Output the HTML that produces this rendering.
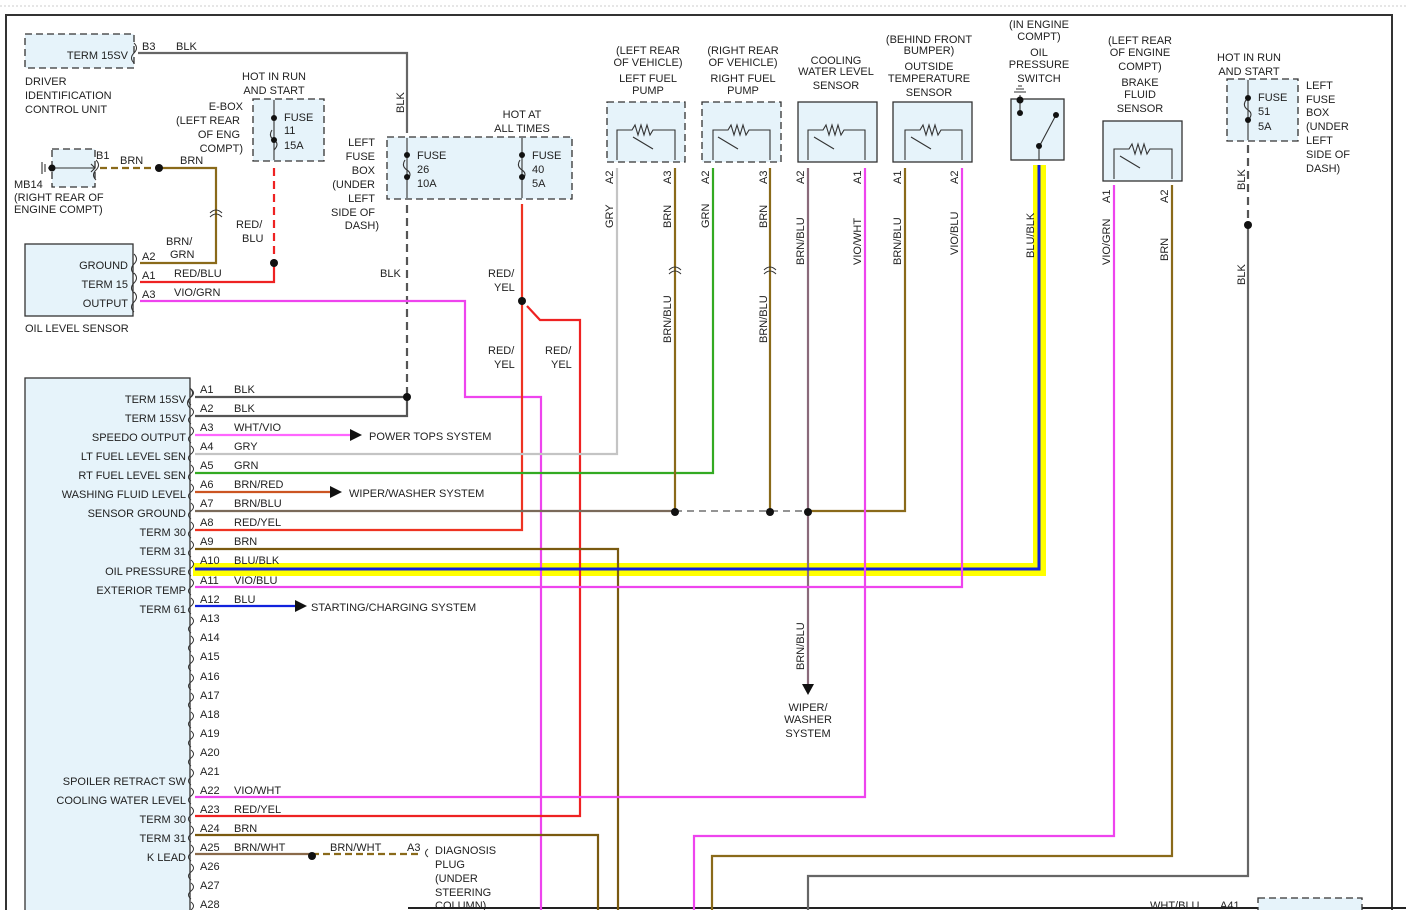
<!DOCTYPE html>
<html><head><meta charset="utf-8"><style>
html,body{margin:0;padding:0;background:#fff;}
svg{display:block;font-family:"Liberation Sans",sans-serif;font-size:11px;fill:#222;}
text{fill:#222;}
.r{text-anchor:end}.m{text-anchor:middle}
</style></head><body>
<svg width="1406" height="910" viewBox="0 0 1406 910" xmlns="http://www.w3.org/2000/svg">
<line x1="0" y1="6" x2="1406" y2="6" stroke="#ccc" stroke-dasharray="2,2"/>
<path d="M6 910 V15 H1392 V910" fill="none" stroke="#333" stroke-width="2"/>
<line x1="408" y1="908" x2="1406" y2="908" stroke="#222" stroke-width="2"/>

<!-- yellow highlight -->
<rect x="84" y="545" width="106" height="34" fill="#ffff00"/>
<rect x="193" y="563" width="853" height="13" fill="#ffff00"/>
<rect x="1033" y="165" width="13" height="411" fill="#ffff00"/>

<!-- boxes -->
<g fill="#e6f3fa" stroke="#333" stroke-width="1.3">
<rect x="25" y="34" width="109" height="34" stroke-dasharray="7,4"/>
<rect x="52" y="149" width="43" height="38" stroke-dasharray="7,4"/>
<rect x="25" y="244" width="108" height="72"/>
<rect x="253" y="99" width="71" height="62" stroke-dasharray="7,4"/>
<rect x="387" y="137" width="185" height="62" stroke-dasharray="7,4"/>
<rect x="25" y="378" width="165" height="540"/>
<rect x="607" y="102" width="78" height="60" stroke-dasharray="7,4"/>
<rect x="702" y="102" width="79" height="60" stroke-dasharray="7,4"/>
<rect x="798" y="102" width="79" height="60"/>
<rect x="893" y="102" width="79" height="60"/>
<rect x="1011" y="99" width="53" height="61"/>
<rect x="1103" y="121" width="79" height="60"/>
<rect x="1227" y="79" width="71" height="62" stroke-dasharray="7,4"/>
<rect x="1258" y="898" width="104" height="14" stroke-dasharray="7,4"/>
</g>

<!-- sensor internals -->
<g fill="none" stroke="#333" stroke-width="1.1">
<path d="M617 160 V130 H632 l3-5 l3 10 l3-10 l3 10 l3-10 l3 10 l3-5 H675 V160"/>
<path d="M713 160 V130 H728 l3-5 l3 10 l3-10 l3 10 l3-10 l3 10 l3-5 H770 V160"/>
<path d="M808 160 V130 H823 l3-5 l3 10 l3-10 l3 10 l3-10 l3 10 l3-5 H865 V160"/>
<path d="M905 160 V130 H920 l3-5 l3 10 l3-10 l3 10 l3-10 l3 10 l3-5 H962 V160"/>
<path d="M1114 179 V149 H1129 l3-5 l3 10 l3-10 l3 10 l3-10 l3 10 l3-5 H1172 V179"/>
<path d="M633 137 l20 12 M718 137 l20 12 M814 137 l20 12 M911 137 l20 12 M1120 156 l20 12"/>
<path d="M1020 95 V113 M1039 147 V160 M1039 147 L1056 115"/>
<path d="M1014 92 h12 M1016 89 h8 M1018 86 h4"/>
<path d="M274 100 V160 M407 138 V198 M522 138 V198 M1248 80 V140"/>
<path d="M272 130 q-4 6 2 10 q6 4 0 10 M405 160 q-4 6 2 10 q6 4 0 10 M520 160 q-4 6 2 10 q6 4 0 10 M1246 100 q-4 6 2 10 q6 4 0 10"/>
<path d="M48 168 H95 M91 164 l4 4 -4 4 M42 162 v12 M45 164 v8"/>
</g>
<g fill="#111">
<circle cx="1020" cy="100" r="3.5"/><circle cx="1039" cy="146" r="3"/><circle cx="1056" cy="115" r="3"/><circle cx="1020" cy="113" r="3"/>
<circle cx="274" cy="118" r="3"/><circle cx="274" cy="140" r="3"/>
<circle cx="407" cy="155" r="3"/><circle cx="407" cy="177" r="3"/>
<circle cx="522" cy="155" r="3"/><circle cx="522" cy="177" r="3"/>
<circle cx="1248" cy="98" r="3"/><circle cx="1248" cy="120" r="3"/>
<circle cx="52" cy="168" r="3.5"/>
</g>

<!-- wires -->
<g fill="none" stroke-width="2.2">
<path d="M138 53 H407 V133" stroke="#666"/>
<path d="M407 205 V397" stroke="#555" stroke-dasharray="8,5"/>
<path d="M195 397 H407 M195 416 H407 V397" stroke="#555"/>
<path d="M100 168 H159" stroke="#8a6a1a" stroke-dasharray="7,4"/>
<path d="M159 168 H216 V263 H140" stroke="#8a6a1a"/>
<path d="M274 168 V263" stroke="#ee2222" stroke-dasharray="8,5"/>
<path d="M274 263 V282 H140" stroke="#ee2222"/>
<path d="M140 301 H465 V397 H541 V910" stroke="#ee44ee"/>
<path d="M522 204 V530 H195" stroke="#ee3322"/>
<path d="M527 306 L540 320 H580 V816 H195" stroke="#ee2222"/>
<path d="M195 435 H350" stroke="#ff66ff"/>
<path d="M195 454 H617 V168" stroke="#c4c4c4"/>
<path d="M195 473 H713 V168" stroke="#33aa22"/>
<path d="M195 492 H330" stroke="#cc5522"/>
<path d="M195 511 H675" stroke="#7a6a5a"/>
<path d="M675 511 H808" stroke="#555" stroke-dasharray="7,5" stroke-width="1.3"/>
<path d="M808 511 H905 V168" stroke="#8a6a1a"/>
<path d="M675 511 V168 M770 511 V168" stroke="#8a6a1a"/>
<path d="M808 168 V685" stroke="#8a6a7a"/>
<path d="M195 549 H618 V910" stroke="#7a5a10"/>
<path d="M195 569 H1039 V165" stroke="#1122dd" stroke-width="3"/>
<path d="M195 587 H962 V168" stroke="#ee44ee"/>
<path d="M195 606 H295" stroke="#1122dd"/>
<path d="M195 797 H865 V168" stroke="#ee44ee"/>
<path d="M195 835 H598 V910" stroke="#7a5a10"/>
<path d="M195 854 H312" stroke="#8a6a4a"/>
<path d="M312 854 H420" stroke="#8a6a1a" stroke-dasharray="7,4"/>
<path d="M1114 185 V836 H694 V910" stroke="#ee44ee"/>
<path d="M1172 185 V856 H712 V910" stroke="#8a6a1a"/>
<path d="M1248 145 V225" stroke="#555" stroke-dasharray="8,5"/>
<path d="M1248 225 V876 H808 V910" stroke="#666"/>
</g>
<g fill="#111">
<circle cx="159" cy="168" r="4"/><circle cx="274" cy="263" r="4"/><circle cx="407" cy="397" r="4"/>
<circle cx="522" cy="301" r="4"/><circle cx="675" cy="512" r="4"/><circle cx="770" cy="512" r="4"/><circle cx="808" cy="512" r="4"/>
<circle cx="1248" cy="225" r="4"/><circle cx="312" cy="856" r="4"/>
<path d="M350 429 l12 6 -12 6z M330 486 l12 6 -12 6z M295 600 l12 6 -12 6z M802 684 l6 11 6-11z"/>
</g>
<!-- connector brackets -->
<g fill="none" stroke="#333" stroke-width="1">
<path d="M210 213 q6-6 12 0 M210 217 q6-6 12 0 M669 270 q6-6 12 0 M669 274 q6-6 12 0 M764 270 q6-6 12 0 M764 274 q6-6 12 0"/>
<path d="M134 43 q5 5 0 10 q-5 5 0 10 M96 160 q5 5 0 10 q-5 5 0 10 M134 254 q5 5 0 10 q-5 5 0 10 M134 273 q5 5 0 10 q-5 5 0 10 M134 292 q5 5 0 10 q-5 5 0 10"/>
<path d="M190 388 q5 5 0 10 q-5 5 0 10 v510"/>
</g>
<g fill="none" stroke="#333" stroke-width="1">
<path id="br" d="M191 389 q5 4 0 8 q-5 4 0 8"/>
</g>
<g fill="none" stroke="#333" stroke-width="1">
<path d="M191 408 q5 4 0 8 q-5 4 0 8 M191 427 q5 4 0 8 q-5 4 0 8 M191 446 q5 4 0 8 q-5 4 0 8 M191 465 q5 4 0 8 q-5 4 0 8 M191 484 q5 4 0 8 q-5 4 0 8 M191 503 q5 4 0 8 q-5 4 0 8 M191 522 q5 4 0 8 q-5 4 0 8 M191 541 q5 4 0 8 q-5 4 0 8 M191 560 q5 4 0 8 q-5 4 0 8 M191 579 q5 4 0 8 q-5 4 0 8 M191 598 q5 4 0 8 q-5 4 0 8 M191 617 q5 4 0 8 q-5 4 0 8 M191 636 q5 4 0 8 q-5 4 0 8 M191 655 q5 4 0 8 q-5 4 0 8 M191 674 q5 4 0 8 q-5 4 0 8 M191 693 q5 4 0 8 q-5 4 0 8 M191 712 q5 4 0 8 q-5 4 0 8 M191 731 q5 4 0 8 q-5 4 0 8 M191 750 q5 4 0 8 q-5 4 0 8 M191 769 q5 4 0 8 q-5 4 0 8 M191 788 q5 4 0 8 q-5 4 0 8 M191 807 q5 4 0 8 q-5 4 0 8 M191 826 q5 4 0 8 q-5 4 0 8 M191 845 q5 4 0 8 q-5 4 0 8 M191 864 q5 4 0 8 q-5 4 0 8 M191 883 q5 4 0 8 q-5 4 0 8 M191 902 q5 4 0 8"/>
</g>

<!-- text -->
<text x="128" y="59" class="r">TERM 15SV</text>
<text x="142" y="50">B3</text><text x="176" y="50">BLK</text>
<text x="25" y="85">DRIVER</text><text x="25" y="99">IDENTIFICATION</text><text x="25" y="113">CONTROL UNIT</text>
<text x="274" y="80" class="m">HOT IN RUN</text><text x="274" y="94" class="m">AND START</text>
<text x="243" y="110" class="r">E-BOX</text><text x="240" y="124" class="r">(LEFT REAR</text><text x="240" y="138" class="r">OF ENG</text><text x="243" y="152" class="r">COMPT)</text>
<text x="284" y="121">FUSE</text><text x="284" y="134">11</text><text x="284" y="149">15A</text>
<text x="96" y="159">B1</text><text x="120" y="164">BRN</text><text x="180" y="164">BRN</text>
<text x="14" y="188">MB14</text><text x="14" y="201">(RIGHT REAR OF</text><text x="14" y="213">ENGINE COMPT)</text>
<text x="236" y="228">RED/</text><text x="242" y="242">BLU</text>
<text x="166" y="245">BRN/</text><text x="170" y="258">GRN</text>
<text x="128" y="269" class="r">GROUND</text><text x="128" y="288" class="r">TERM 15</text><text x="128" y="307" class="r">OUTPUT</text>
<text x="142" y="260">A2</text><text x="142" y="279">A1</text><text x="142" y="298">A3</text>
<text x="174" y="277">RED/BLU</text><text x="174" y="296">VIO/GRN</text>
<text x="25" y="332">OIL LEVEL SENSOR</text>
<text transform="translate(404,113) rotate(-90)">BLK</text>
<text x="522" y="118" class="m">HOT AT</text><text x="522" y="132" class="m">ALL TIMES</text>
<text x="375" y="146" class="r">LEFT</text><text x="375" y="160" class="r">FUSE</text><text x="375" y="174" class="r">BOX</text><text x="375" y="188" class="r">(UNDER</text><text x="375" y="202" class="r">LEFT</text><text x="375" y="216" class="r">SIDE OF</text><text x="379" y="229" class="r">DASH)</text>
<text x="417" y="159">FUSE</text><text x="417" y="173">26</text><text x="417" y="187">10A</text>
<text x="532" y="159">FUSE</text><text x="532" y="173">40</text><text x="532" y="187">5A</text>
<text x="380" y="277">BLK</text>
<text x="488" y="277">RED/</text><text x="494" y="291">YEL</text>
<text x="488" y="354">RED/</text><text x="494" y="368">YEL</text>
<text x="545" y="354">RED/</text><text x="551" y="368">YEL</text>

<text x="648" y="54" class="m">(LEFT REAR</text><text x="648" y="66" class="m">OF VEHICLE)</text><text x="648" y="82" class="m">LEFT FUEL</text><text x="648" y="94" class="m">PUMP</text>
<text x="743" y="54" class="m">(RIGHT REAR</text><text x="743" y="66" class="m">OF VEHICLE)</text><text x="743" y="82" class="m">RIGHT FUEL</text><text x="743" y="94" class="m">PUMP</text>
<text x="836" y="64" class="m">COOLING</text><text x="836" y="75" class="m">WATER LEVEL</text><text x="836" y="89" class="m">SENSOR</text>
<text x="929" y="43" class="m">(BEHIND FRONT</text><text x="929" y="54" class="m">BUMPER)</text><text x="929" y="70" class="m">OUTSIDE</text><text x="929" y="82" class="m">TEMPERATURE</text><text x="929" y="96" class="m">SENSOR</text>
<text x="1039" y="28" class="m">(IN ENGINE</text><text x="1039" y="40" class="m">COMPT)</text><text x="1039" y="56" class="m">OIL</text><text x="1039" y="68" class="m">PRESSURE</text><text x="1039" y="82" class="m">SWITCH</text>
<text x="1140" y="44" class="m">(LEFT REAR</text><text x="1140" y="56" class="m">OF ENGINE</text><text x="1140" y="70" class="m">COMPT)</text><text x="1140" y="86" class="m">BRAKE</text><text x="1140" y="98" class="m">FLUID</text><text x="1140" y="112" class="m">SENSOR</text>
<text x="1249" y="61" class="m">HOT IN RUN</text><text x="1249" y="75" class="m">AND START</text>
<text x="1258" y="101">FUSE</text><text x="1258" y="115">51</text><text x="1258" y="130">5A</text>
<text x="1306" y="89">LEFT</text><text x="1306" y="103">FUSE</text><text x="1306" y="116">BOX</text><text x="1306" y="130">(UNDER</text><text x="1306" y="144">LEFT</text><text x="1306" y="158">SIDE OF</text><text x="1306" y="172">DASH)</text>

<g>
<text transform="translate(613,184) rotate(-90)">A2</text><text transform="translate(671,184) rotate(-90)">A3</text>
<text transform="translate(709,184) rotate(-90)">A2</text><text transform="translate(767,184) rotate(-90)">A3</text>
<text transform="translate(804,184) rotate(-90)">A2</text><text transform="translate(861,184) rotate(-90)">A1</text>
<text transform="translate(901,184) rotate(-90)">A1</text><text transform="translate(958,184) rotate(-90)">A2</text>
<text transform="translate(1110,203) rotate(-90)">A1</text><text transform="translate(1168,203) rotate(-90)">A2</text>
<text transform="translate(613,228) rotate(-90)">GRY</text><text transform="translate(671,228) rotate(-90)">BRN</text>
<text transform="translate(709,228) rotate(-90)">GRN</text><text transform="translate(767,228) rotate(-90)">BRN</text>
<text transform="translate(804,265) rotate(-90)">BRN/BLU</text><text transform="translate(861,265) rotate(-90)">VIO/WHT</text>
<text transform="translate(901,265) rotate(-90)">BRN/BLU</text><text transform="translate(958,255) rotate(-90)">VIO/BLU</text>
<text transform="translate(1034,258) rotate(-90)">BLU/BLK</text>
<text transform="translate(1110,265) rotate(-90)">VIO/GRN</text><text transform="translate(1168,261) rotate(-90)">BRN</text>
<text transform="translate(1245,190) rotate(-90)">BLK</text><text transform="translate(1245,285) rotate(-90)">BLK</text>
<text transform="translate(671,343) rotate(-90)">BRN/BLU</text><text transform="translate(767,343) rotate(-90)">BRN/BLU</text>
<text transform="translate(804,670) rotate(-90)">BRN/BLU</text>
</g>
<text x="808" y="711" class="m">WIPER/</text><text x="808" y="723" class="m">WASHER</text><text x="808" y="737" class="m">SYSTEM</text>

<g class="r">
<text x="186" y="403" class="r">TERM 15SV</text><text x="186" y="422" class="r">TERM 15SV</text><text x="186" y="441" class="r">SPEEDO OUTPUT</text>
<text x="186" y="460" class="r">LT FUEL LEVEL SEN</text><text x="186" y="479" class="r">RT FUEL LEVEL SEN</text><text x="186" y="498" class="r">WASHING FLUID LEVEL</text>
<text x="186" y="517" class="r">SENSOR GROUND</text><text x="186" y="536" class="r">TERM 30</text><text x="186" y="555" class="r">TERM 31</text>
<text x="186" y="575" class="r">OIL PRESSURE</text><text x="186" y="594" class="r">EXTERIOR TEMP</text><text x="186" y="613" class="r">TERM 61</text>
<text x="186" y="785" class="r">SPOILER RETRACT SW</text><text x="186" y="804" class="r">COOLING WATER LEVEL</text><text x="186" y="823" class="r">TERM 30</text>
<text x="186" y="842" class="r">TERM 31</text><text x="186" y="861" class="r">K LEAD</text>
</g>
<g>
<text x="200" y="393">A1</text><text x="200" y="412">A2</text><text x="200" y="431">A3</text><text x="200" y="450">A4</text><text x="200" y="469">A5</text><text x="200" y="488">A6</text><text x="200" y="507">A7</text><text x="200" y="526">A8</text><text x="200" y="545">A9</text><text x="200" y="564">A10</text><text x="200" y="584">A11</text><text x="200" y="603">A12</text><text x="200" y="622">A13</text><text x="200" y="641">A14</text><text x="200" y="660">A15</text><text x="200" y="680">A16</text><text x="200" y="699">A17</text><text x="200" y="718">A18</text><text x="200" y="737">A19</text><text x="200" y="756">A20</text><text x="200" y="775">A21</text><text x="200" y="794">A22</text><text x="200" y="813">A23</text><text x="200" y="832">A24</text><text x="200" y="851">A25</text><text x="200" y="870">A26</text><text x="200" y="889">A27</text><text x="200" y="908">A28</text>
<text x="234" y="393">BLK</text><text x="234" y="412">BLK</text><text x="234" y="431">WHT/VIO</text><text x="234" y="450">GRY</text><text x="234" y="469">GRN</text><text x="234" y="488">BRN/RED</text><text x="234" y="507">BRN/BLU</text><text x="234" y="526">RED/YEL</text><text x="234" y="545">BRN</text><text x="234" y="564">BLU/BLK</text><text x="234" y="584">VIO/BLU</text><text x="234" y="603">BLU</text>
<text x="234" y="794">VIO/WHT</text><text x="234" y="813">RED/YEL</text><text x="234" y="832">BRN</text><text x="234" y="851">BRN/WHT</text>
<text x="369" y="440">POWER TOPS SYSTEM</text><text x="349" y="497">WIPER/WASHER SYSTEM</text><text x="311" y="611">STARTING/CHARGING SYSTEM</text>
<text x="330" y="851">BRN/WHT</text><text x="407" y="851">A3</text>
<text x="435" y="854">DIAGNOSIS</text><text x="435" y="868">PLUG</text><text x="435" y="882">(UNDER</text><text x="435" y="896">STEERING</text><text x="435" y="909">COLUMN)</text>
<text x="1150" y="909">WHT/BLU</text><text x="1220" y="909">A41</text>
</g>
<path d="M428 849 q-5 4 0 8" fill="none" stroke="#333"/>
</svg>
</body></html>
